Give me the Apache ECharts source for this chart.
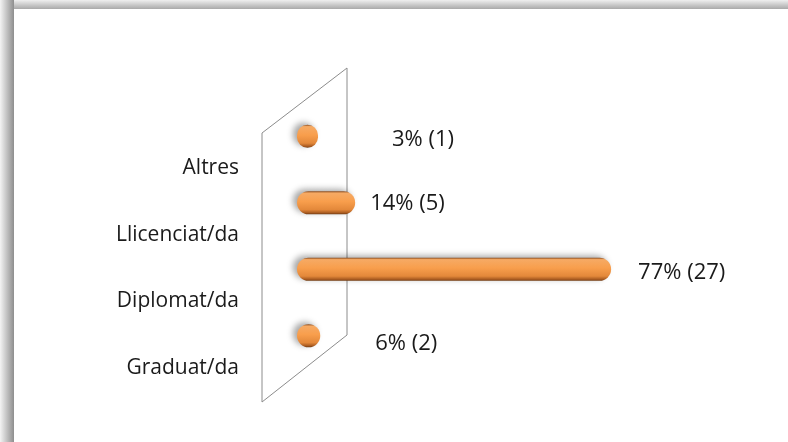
<!DOCTYPE html>
<html>
<head>
<meta charset="utf-8">
<script src="https://cdn.jsdelivr.net/npm/echarts@6/dist/echarts.min.js"></script>
<style>
  html, body { margin: 0; padding: 0; background: #fff; }
  #chart { width: 788px; height: 442px; }
</style>
</head>
<body>
<div id="chart"></div>
<script>
  // categories bottom -> top, as in the picture
  var categories = ['Graduat/da', 'Diplomat/da', 'Llicenciat/da', 'Altres'];
  var counts = [2, 27, 5, 1];
  var percents = [6, 77, 14, 3];

  // where each value label sits relative to its bar end (3D chart, labels drift)
  var labelShift = [[55, 8], [27, 3], [15, 1], [74, 3]];

  var chart = echarts.init(document.getElementById('chart'));

  var barColor = new echarts.graphic.LinearGradient(0, 0, 0, 1, [
    { offset: 0, color: '#8a4a1c' },
    { offset: 0.08, color: '#f6aa64' },
    { offset: 0.45, color: '#f89e4c' },
    { offset: 0.8, color: '#e3883a' },
    { offset: 0.94, color: '#a85a20' },
    { offset: 1, color: '#6e3a12' }
  ]);

  var seriesData = counts.map(function(v, i) {
    return {
      value: v,
      label: { offset: labelShift[i] }
    };
  });

  var option = {
    backgroundColor: '#fff',
    animation: false,
    textStyle: { fontFamily: 'Open Sans' },
    graphic: [
      {
        // wall behind the bars
        type: 'polygon',
        z: 0,
        shape: { points: [[262, 133], [347, 68], [347, 335], [262, 402]] },
        style: { fill: '#fff', stroke: '#8c8c8c', lineWidth: 1 }
      },
      {
        type: 'rect',
        z: 100,
        shape: { x: 0, y: 0, width: 788, height: 9 },
        style: {
          fill: new echarts.graphic.LinearGradient(0, 0, 0, 1, [
            { offset: 0, color: '#efefef' },
            { offset: 1, color: '#a9a9a9' }
          ])
        }
      },
      {
        type: 'rect',
        z: 101,
        shape: { x: 0, y: 0, width: 14, height: 442 },
        style: {
          fill: new echarts.graphic.LinearGradient(0, 0, 1, 0, [
            { offset: 0, color: '#f4f4f4' },
            { offset: 1, color: '#8e8e8e' }
          ])
        }
      }
    ],
    grid: [
      { left: 297, top: 103, width: 349, height: 266 },
      { left: 297, top: 135, width: 349, height: 266 }
    ],
    xAxis: [
      { type: 'value', gridIndex: 0, min: 0, max: 30, show: false },
      { type: 'value', gridIndex: 1, min: 0, max: 30, show: false }
    ],
    yAxis: [
      {
        type: 'category',
        gridIndex: 0,
        data: categories,
        axisLine: { show: false },
        axisTick: { show: false },
        axisLabel: { show: false },
        splitLine: { show: false }
      },
      {
        type: 'category',
        gridIndex: 1,
        data: categories,
        axisLine: { show: false },
        axisTick: { show: false },
        splitLine: { show: false },
        axisLabel: {
          margin: 58,
          color: '#1a1a1a',
          fontSize: 21,
          fontFamily: 'Open Sans'
        }
      }
    ],
    series: [
      {
        type: 'bar',
        xAxisIndex: 0,
        yAxisIndex: 0,
        barWidth: 23,
        barMinHeight: 21,
        data: seriesData,
        itemStyle: {
          color: barColor,
          borderRadius: 11.5,
          shadowColor: 'rgba(0,0,0,0.35)',
          shadowBlur: 6,
          shadowOffsetX: -4,
          shadowOffsetY: -2
        },
        label: {
          show: true,
          position: 'right',
          distance: 0,
          color: '#1a1a1a',
          fontSize: 22,
          fontFamily: 'Open Sans',
          formatter: function(p) {
            return percents[p.dataIndex] + '% (' + counts[p.dataIndex] + ')';
          }
        }
      }
    ]
  };

  chart.setOption(option);
</script>
</body>
</html>
